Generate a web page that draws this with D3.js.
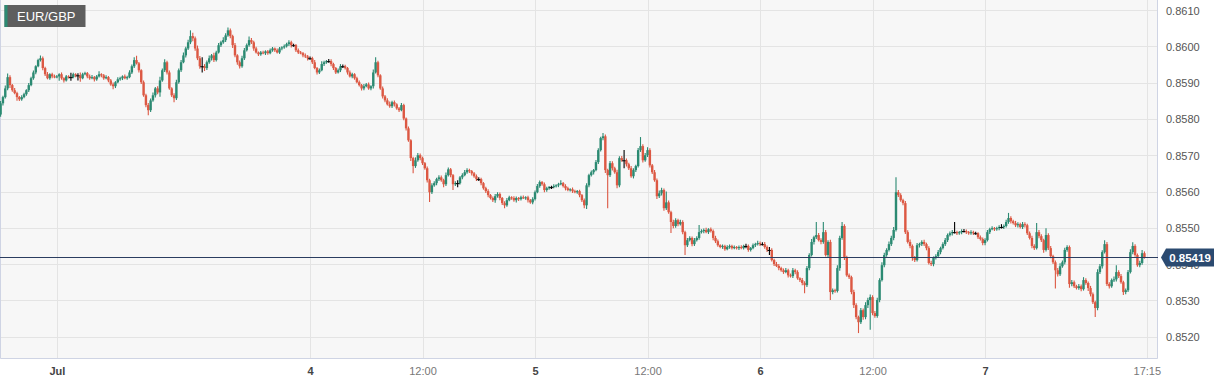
<!DOCTYPE html>
<html>
<head>
<meta charset="utf-8">
<script src="https://cdn.jsdelivr.net/npm/d3@7"></script>
<style>
  body { margin: 0; background: #fff; }
  text { font-family: "Liberation Sans", Arial, sans-serif; }
</style>
</head>
<body>
<div class="chart"></div>
<script>
// 15 min candles, values in 1e-5 above 0.85000, open = previous close
const firstOpen = 812;

const fri30Close = [843,860,884,915,893,879,871,860,854,860,868,879,893,912,928,945,962,967,940,923,912,923,917,915];
const fri30Up = [6,4,8,10,5,3,6,4,3,5,4,3,6,4,5,3,4,8,5,4,6,3,4,5];
const fri30Dn = [6,6,4,5,8,4,3,10,5,4,3,4,5,3,4,5,3,4,6,5,3,4,5,3];

const jul2Close = [917,923,912,906,917,915,915,923,920,920,912,923];
const jul2Up = [4,3,5,3,4,3,12,4,3,6,8,4];
const jul2Dn = [3,12,4,6,3,4,10,3,5,14,10,3];

const jul3Close = [926,917,912,915,909,917,923,920,912,915,
  906,895,890,901,909,912,917,912,915,928,
  945,962,953,934,901,865,838,824,851,865,
  884,873,906,934,956,928,884,865,857,901,
  934,956,975,994,1011,1028,1022,994,967,945,
  945,940,956,967,975,962,983,1003,1011,1017,
  1030,1044,1028,1003,975,956,945,967,989,1003,
  1017,1011,994,983,978,983,981,986,981,989,
  994,989,983,994,997,1000,1006,1011,1003,1003,
  989,983,981,975,972,967];
const jul3Up = [4,3,5,6,3,4,8,3,4,5, 3,4,5,3,6,4,3,5,4,6, 5,8,12,4,3,5,4,6,5,8,
  4,6,10,5,8,4,5,3,6,7, 5,6,8,5,7,16,9,5,8,6, 25,6,5,8,4,7,5,6,4,8,
  6,8,5,4,6,3,5,7,6,5, 10,6,4,5,3,4,5,3,4,5, 4,3,5,4,3,5,4,6,4,4, 3,5,4,3,5,4];
const jul3Dn = [3,5,4,3,6,4,3,5,4,3, 5,4,8,5,3,4,5,3,4,3, 4,5,3,6,5,4,6,14,5,4,
  6,5,12,4,5,6,4,5,11,5, 4,5,3,6,4,5,8,6,5,7, 17,8,5,4,6,5,4,3,5,4,
  5,4,6,8,5,7,6,4,5,3, 4,5,6,3,5,4,3,5,4,3, 4,5,3,4,5,4,3,5,6,4, 5,4,3,5,4,6];

const jul4Close = [967,956,940,928,934,951,956,959,959,951,
  940,928,934,945,945,940,928,917,923,912,
  901,893,884,890,895,884,890,928,956,920,
  884,862,851,840,835,846,840,829,824,838,
  801,774,741,692,670,686,700,692,678,664,
  631,598,617,623,634,639,631,620,645,661,
  645,620,623,623,639,645,653,659,656,650,
  642,634,634,623,609,601,590,582,576,587,
  593,582,568,562,576,584,582,576,582,579,
  584,582,584,576,570,579];
const jul4Up = [5,4,6,3,5,8,4,3,6,5, 4,3,5,6,5,4,3,5,4,3, 4,5,3,6,4,5,3,8,14,4,
  3,5,4,6,8,4,5,3,4,6, 4,3,5,3,4,8,6,5,4,3, 5,4,6,5,4,6,5,4,7,5,
  4,3,5,8,4,5,6,5,4,3, 4,5,5,4,3,4,5,3,4,6, 5,4,3,5,6,4,3,5,4,3, 4,5,3,4,3,5];
const jul4Dn = [4,5,3,6,4,3,5,4,4,6, 5,4,3,5,5,4,6,3,5,4, 3,4,6,5,3,4,5,6,3,5,
  4,6,5,3,4,5,6,4,5,3, 5,6,4,8,20,5,4,6,5,4, 6,27,5,4,6,5,4,8,5,4,
  6,16,5,11,4,5,3,4,5,6, 4,5,5,6,4,5,6,4,5,7, 4,6,5,8,4,3,5,4,6,5, 4,3,5,6,4,5];

const jul5Close = [598,615,626,620,604,609,612,612,615,617,
  620,623,615,609,604,606,601,598,601,590,
  576,562,617,645,653,659,681,714,747,752,
  659,645,678,664,653,617,692,686,686,675,
  664,642,659,670,714,725,686,700,714,672,
  653,631,587,595,604,554,570,543,516,505,
  521,510,516,488,452,466,472,455,466,472,
  488,491,494,488,496,491,472,463,452,447,
  450,441,447,450,444,447,444,447,444,450,
  450,439,444,452,455,458];
const jul5Up = [5,6,4,3,5,4,3,4,5,3, 4,8,3,5,4,3,5,4,3,4, 3,5,6,4,5,3,6,5,4,9,
  5,4,6,5,4,7,5,6,28,5, 4,6,5,4,6,25,5,6,8,5, 4,6,5,8,6,4,30,5,4,6,
  5,4,6,5,4,6,5,4,6,5, 20,5,4,6,3,5,4,6,5,3, 4,3,5,4,3,4,3,4,5,3, 6,4,3,5,4,6];
const jul5Dn = [4,3,5,4,6,5,4,5,3,4, 5,3,4,6,3,4,5,3,4,6, 5,8,10,5,4,6,3,5,4,6,
  8,91,5,6,4,8,5,4,22,6, 5,4,6,5,4,5,6,4,5,6, 5,4,8,5,6,7,5,4,30,6,
  5,6,4,6,27,5,4,6,5,4, 5,4,6,3,5,4,6,5,4,3, 5,4,3,5,4,3,4,5,3,4, 6,5,4,3,5,4];

const jul6Close = [455,455,447,439,439,411,400,395,389,383,
  378,383,369,367,383,378,361,356,348,342,
  389,425,461,474,480,466,461,488,425,461,
  323,328,326,389,472,505,417,369,364,323,
  287,254,240,273,254,287,301,309,265,257,
  301,356,397,425,439,455,472,494,598,590,
  576,568,488,461,450,417,411,452,455,461,
  455,444,403,400,417,422,433,444,455,466,
  480,485,488,488,485,488,491,491,488,485,
  488,485,485,474,469,458];
const jul6Up = [4,5,6,4,8,5,4,6,5,4, 5,6,4,5,6,4,5,3,6,5, 6,5,8,4,36,6,5,28,6,5,
  6,5,4,8,6,11,5,6,5,4, 6,5,4,6,5,8,6,7,5,6, 6,5,8,6,5,7,6,8,41,6,
  5,4,6,5,7,4,5,6,4,5, 6,4,5,6,4,5,6,4,5,6, 4,5,6,28,4,3,5,6,4,3, 5,4,4,3,5,4];
const jul6Dn = [5,4,5,6,14,4,5,3,6,4, 5,3,6,4,5,6,4,5,6,22, 5,6,4,7,5,4,6,5,4,6,
  22,6,5,4,7,5,6,4,5,6, 8,6,30,5,7,6,8,82,6,5, 5,6,4,6,5,4,5,6,4,5,
  4,6,5,4,6,8,5,4,6,5, 5,6,4,5,6,4,5,6,4,5, 5,4,6,4,5,4,6,4,5,4, 4,5,4,5,4,6];

const jul7Close = [466,488,496,499,496,499,502,502,505,516,
  527,518,513,507,510,502,510,507,485,472,
  450,444,488,477,466,439,480,444,422,405,
  383,372,394,405,439,447,345,350,339,334,
  339,331,356,348,334,317,295,279,378,394,
  433,455,345,339,356,358,378,367,350,323,
  328,378,433,450,425,397,403,430,419];
const jul7Up = [5,6,4,5,3,4,5,8,4,6, 14,5,4,6,5,4,6,5,4,5, 6,5,25,6,5,4,19,5,6,4,
  5,6,8,5,6,5,4,6,5,4, 6,5,8,5,4,6,5,4,8,6, 5,11,6,5,4,8,19,5,6,4, 5,6,8,10,5,4,6,9,5];
const jul7Dn = [6,4,5,3,5,4,6,4,5,4, 5,6,4,5,6,4,5,6,5,4, 6,5,4,6,5,8,4,5,6,5,
  50,6,5,4,6,5,10,6,5,4, 5,6,4,5,8,6,5,25,6,5, 6,4,5,6,4,5,6,5,4,8, 6,5,4,6,5,4,6,5,4];

const yTicks = [0.8520,0.8530,0.8540,0.8550,0.8560,0.8570,0.8580,0.8590,0.8600,0.8610];
const xTickIdx = [24,132,180,228,276,324,372,420,489];
const xTickText = ["Jul","4","12:00","5","12:00","6","12:00","7","17:15"];
const xTickBold = [true,true,false,true,false,true,false,true,false];
const lastPrice = 0.85419;
const symbol = "EUR/GBP";

const days = [
  [fri30Close, fri30Up, fri30Dn],
  [jul2Close, jul2Up, jul2Dn],
  [jul3Close, jul3Up, jul3Dn],
  [jul4Close, jul4Up, jul4Dn],
  [jul5Close, jul5Up, jul5Dn],
  [jul6Close, jul6Up, jul6Dn],
  [jul7Close, jul7Up, jul7Dn]
];

const toPrice = v => 0.85 + v / 100000;

const candles = [];
let prev = firstOpen;
days.forEach(([cl, up, dn]) => {
  cl.forEach((c, k) => {
    const o = prev;
    candles.push({
      i: candles.length,
      o: toPrice(o),
      c: toPrice(c),
      h: toPrice(Math.max(o, c) + up[k]),
      l: toPrice(Math.min(o, c) - dn[k])
    });
    prev = c;
  });
});

const W = 1229, H = 385;
const plotW = 1158, plotH = 359;
const green = "#2b8a72", red = "#dc5843";

const svg = d3.select(".chart").append("svg")
  .attr("width", W).attr("height", H);

const x = d3.scaleLinear().domain([0, 489]).range([0.6, 1146.8]);
const y = d3.scaleLinear().domain([0.8520, 0.8610]).range([336.7, 10]);

svg.append("defs").append("clipPath").attr("id", "clip")
  .append("rect").attr("width", plotW).attr("height", plotH);

svg.append("rect")
  .attr("width", plotW).attr("height", plotH)
  .attr("fill", "#f7f7f7");

// grid
svg.append("g").selectAll("line")
  .data(yTicks).join("line")
  .attr("x1", 0).attr("x2", plotW)
  .attr("y1", d => Math.round(y(d)) + 0.5).attr("y2", d => Math.round(y(d)) + 0.5)
  .attr("stroke", "#e4e4e4");

svg.append("g").selectAll("line")
  .data(xTickIdx).join("line")
  .attr("x1", d => Math.round(x(d)) + 0.5).attr("x2", d => Math.round(x(d)) + 0.5)
  .attr("y1", 0).attr("y2", plotH)
  .attr("stroke", "#e4e4e4");

// border
svg.append("path")
  .attr("d", `M0.5,0V${plotH - 0.5}H${plotW - 0.5}V0`)
  .attr("fill", "none")
  .attr("stroke", "#cfd4e4");

const colorOf = d => d.c > d.o ? green : (d.c < d.o ? red : "#000");

const g = svg.append("g").attr("clip-path", "url(#clip)");

g.selectAll(".wick")
  .data(candles).join("line")
  .attr("class", "wick")
  .attr("x1", d => x(d.i)).attr("x2", d => x(d.i))
  .attr("y1", d => y(d.h)).attr("y2", d => y(d.l))
  .attr("stroke", colorOf)
  .attr("stroke-width", 1.1);

g.selectAll(".body")
  .data(candles).join("rect")
  .attr("class", "body")
  .attr("x", d => x(d.i) - (d.c === d.o ? 2 : 1.2))
  .attr("width", d => d.c === d.o ? 4 : 2.4)
  .attr("y", d => y(Math.max(d.o, d.c)))
  .attr("height", d => Math.max(1, Math.abs(y(d.o) - y(d.c))))
  .attr("fill", colorOf);

// axes
const yAxis = d3.axisRight(y)
  .tickValues(yTicks)
  .tickSize(0)
  .tickPadding(0)
  .tickFormat(d3.format(".4f"));

svg.append("g")
  .attr("transform", `translate(1166,0.5)`)
  .call(yAxis)
  .call(s => s.select(".domain").remove())
  .selectAll("text")
  .attr("fill", "#555")
  .style("font-size", "11px");

const xAxis = d3.axisBottom(x)
  .tickValues(xTickIdx)
  .tickSize(0)
  .tickPadding(0)
  .tickFormat((d, k) => xTickText[k]);

svg.append("g")
  .attr("transform", `translate(0,${plotH + 8})`)
  .call(xAxis)
  .call(s => s.select(".domain").remove())
  .selectAll("text")
  .attr("fill", (d, k) => xTickBold[k] ? "#444" : "#777")
  .style("font-weight", (d, k) => xTickBold[k] ? "bold" : "normal")
  .style("font-size", "11px");

// last price line and label
const py = Math.round(y(lastPrice)) + 0.5;
svg.append("line")
  .attr("x1", 0).attr("x2", plotW)
  .attr("y1", py).attr("y2", py)
  .attr("stroke", "#2b3d60");

svg.append("path")
  .attr("d", `M1161,${py}L1166,${py - 9}H1214V${py + 9}H1166Z`)
  .attr("fill", "#2b4a70");

svg.append("text")
  .attr("x", 1190).attr("y", py)
  .attr("dy", "0.36em")
  .attr("text-anchor", "middle")
  .attr("fill", "#fff")
  .style("font-size", "11.5px")
  .style("font-weight", "bold")
  .text(d3.format(".5f")(lastPrice));

// symbol box
svg.append("rect")
  .attr("x", 4.5).attr("y", 5).attr("width", 81).attr("height", 22)
  .attr("fill", "#5e5e5e");
svg.append("rect")
  .attr("x", 4.5).attr("y", 5).attr("width", 3).attr("height", 22)
  .attr("fill", green);
svg.append("text")
  .attr("x", 17).attr("y", 21)
  .attr("fill", "#fff")
  .style("font-size", "13px")
  .text(symbol);
</script>
</body>
</html>
